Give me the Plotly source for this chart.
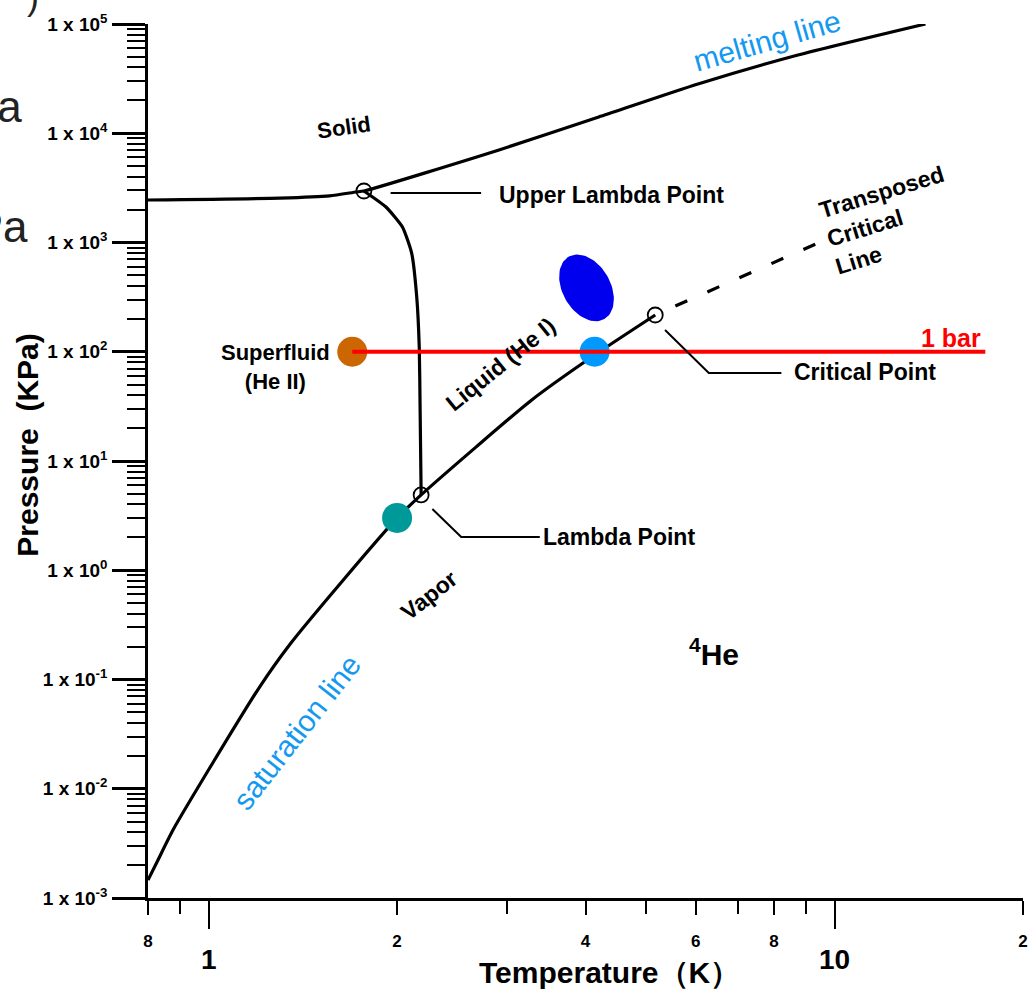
import numpy as np
import plotly.graph_objects as go

# ---------------- data ----------------
# melting line / solid boundary (T in K, P in kPa)
melt_T = [0.80, 1.30, 1.56, 1.72, 1.77, 2.91, 4.20, 6.05, 8.74, 13.97]
melt_P = [2450, 2550, 2670, 2900, 2960, 7030, 14090, 28250, 52000, 100000]

# lambda line (He I / He II boundary)
lambda_T = [1.77, 1.92, 2.04, 2.11, 2.15, 2.17, 2.177, 2.185]
lambda_P = [2960, 2113, 1387, 801, 317, 110, 29.3, 4.89]

# saturation (vapour pressure) line
sat_T = [0.80, 0.83, 0.877, 1.015, 1.206, 1.346, 1.641, 2.001, 2.185, 2.673, 3.282, 4.136, 5.17]
sat_P = [1.46e-3, 2.23e-3, 4.19e-3, 0.0172, 0.0853, 0.207, 0.814, 3.01, 4.89, 13.4, 36.2, 93.3, 217]

# transposed critical line (dashed)
trans_T = [5.17, 9.40]
trans_P = [217, 988]

# special points: upper lambda, lambda, critical
special_T = [1.77, 2.185, 5.17]
special_P = [2960, 4.89, 217]

# 1 bar line
bar_T = [1.696, 17.41]
bar_P = [100, 100]

# coloured markers
orange_pt = (1.696, 100)
teal_pt = (2.00, 3.01)
blue_pt = (4.136, 100)
ellipse_center = (4.015, 384)

# axis ticks
y_tickvals = [1e-3, 1e-2, 1e-1, 1e0, 1e1, 1e2, 1e3, 1e4, 1e5]
y_exponents = ["-3", "-2", "-1", "0", "1", "2", "3", "4", "5"]
y_ticktext = ["1 x 10<sup>" + e + "</sup>" for e in y_exponents]
y_minor = [m * 10.0 ** k for k in range(-3, 5) for m in range(2, 10)]
x_tickvals = [0.8, 2, 4, 6, 8, 20]
x_ticktext = ["8", "2", "4", "6", "8", "2"]
x_minor = [0.9, 3, 5, 7, 9]
x2_tickvals = [1, 10]
x2_ticktext = ["1", "10"]

# ---------------- layout geometry ----------------
W, H = 1035, 990
L, R, T, B = 148, 1028, 24, 898
PW, PH = R - L, B - T
FONT = "Liberation Sans, Arial, sans-serif"
BLUE_TXT = "#1499f0"

xr = [np.log10(0.8), np.log10(20)]
yr = [-3, 5]
px_per_dec_x = PW / (xr[1] - xr[0])
px_per_dec_y = PH / (yr[1] - yr[0])


def px(x):
    return (x - L) / PW


def py(y):
    return (B - y) / PH


fig = go.Figure()

# ellipse (highlight region), built in pixel space around its centre
a_px, b_px, tilt = 36, 24, np.deg2rad(30)
t = np.linspace(0, 2 * np.pi, 80)
ex = a_px * np.cos(t)
ey = b_px * np.sin(t)
dx = ex * np.sin(tilt) + ey * np.cos(tilt)
dy = ex * np.cos(tilt) - ey * np.sin(tilt)
ell_T = 10 ** (np.log10(ellipse_center[0]) + dx / px_per_dec_x)
ell_P = 10 ** (np.log10(ellipse_center[1]) - dy / px_per_dec_y)
fig.add_trace(go.Scatter(x=ell_T, y=ell_P, mode="lines", fill="toself",
                         fillcolor="#0000ee", line=dict(color="#0000ee", width=0),
                         hoverinfo="skip", showlegend=False))

line_style = dict(color="black", width=3.2, shape="spline", smoothing=0.6)
fig.add_trace(go.Scatter(x=melt_T, y=melt_P, mode="lines", line=line_style, showlegend=False))
fig.add_trace(go.Scatter(x=lambda_T, y=lambda_P, mode="lines",
                         line=dict(color="black", width=3.2, shape="spline", smoothing=0.5),
                         showlegend=False))
fig.add_trace(go.Scatter(x=sat_T, y=sat_P, mode="lines", line=line_style, showlegend=False))
fig.add_trace(go.Scatter(x=trans_T, y=trans_P, mode="lines",
                         line=dict(color="black", width=3.2, dash="0px,22px,13px,0px"),
                         showlegend=False))
fig.add_trace(go.Scatter(x=bar_T, y=bar_P, mode="lines", xaxis="x2",
                         line=dict(color="#ff0000", width=4), showlegend=False))
fig.add_trace(go.Scatter(x=special_T, y=special_P, mode="markers",
                         marker=dict(symbol="circle-open", size=15, color="black",
                                     line=dict(width=1.8, color="black")),
                         showlegend=False))
for (pt, col) in [(orange_pt, "#cc6600"), (teal_pt, "#009999"), (blue_pt, "#0099ff")]:
    fig.add_trace(go.Scatter(x=[pt[0]], y=[pt[1]], mode="markers",
                             marker=dict(size=30, color=col, line=dict(width=0)),
                             showlegend=False))

# leader lines (pixel coordinates converted to paper)
leaders = [
    [(392, 193), (483, 193)],
    [(434, 509), (463, 537), (542, 537)],
    [(668, 330), (712, 373), (785, 373)],
]
for seg in leaders:
    path = "M " + " L ".join(f"{px(x):.5f},{py(y):.5f}" for x, y in seg)
    fig.add_shape(type="path", path=path, xref="paper", yref="paper",
                  line=dict(color="black", width=2))


def ann(text, x, y, size, angle=0, bold=True, color="black", xanchor="center",
        yanchor="middle", align="center", family=FONT):
    fig.add_annotation(text=text, x=px(x), y=py(y), xref="paper", yref="paper",
                       showarrow=False, textangle=angle, xanchor=xanchor, yanchor=yanchor,
                       align=align,
                       font=dict(family=family, size=size, color=color,
                                 weight="bold" if bold else "normal"))


ann("Solid", 345, 127, 22, angle=-8)
ann("Upper Lambda Point", 499, 195, 23, xanchor="left")
ann("Superfluid<br>(He II)", 276, 367, 22)
ann("Liquid (He I)", 503, 364, 23, angle=-39)
ann("Vapor", 431, 595, 23, angle=-38)
ann("Lambda Point", 543, 537, 23, xanchor="left")
ann("Critical Point", 796, 372, 23, xanchor="left")
ann("Transposed", 886, 192, 23, angle=-17)
ann("Critical", 869, 228, 23, angle=-17)
ann("Line", 863, 260, 23, angle=-17)
ann("<sup>4</sup>He", 717, 652, 30)
ann("1 bar", 956, 338, 25, color="#ff0000")
ann("melting line", 771, 40, 30, angle=-16, bold=False, color=BLUE_TXT)
ann("saturation line", 297, 732, 30, angle=-52, bold=False, color=BLUE_TXT)
ann("Pressure  (KPa)", 27, 445, 30, angle=-90)
ann("Temperature（K）", 612, 972, 30)
# slide residue at the left edge (partly cut off)
ann("kPa", 23, 106, 44, bold=False, color="#222222", xanchor="right")
ann("MPa", 29, 226, 44, bold=False, color="#222222", xanchor="right")
ann(")", 40, -4, 36, bold=False, color="#222222", xanchor="right")

tick_font = dict(family=FONT, size=19, color="black", weight="bold")
fig.update_layout(
    width=W, height=H,
    margin=dict(l=L, r=W - R, t=T, b=H - B),
    paper_bgcolor="white", plot_bgcolor="white",
    xaxis=dict(type="log", range=xr, showline=True, linecolor="black", linewidth=2.5,
               showgrid=False, zeroline=False, ticks="outside", ticklen=14, tickwidth=2,
               tickcolor="black", tickvals=x_tickvals, ticktext=x_ticktext,
               tickfont=dict(family=FONT, size=17, color="black", weight="bold"),
               ticklabelstandoff=12,
               minor=dict(tickvals=x_minor, ticks="outside", ticklen=13, tickwidth=2,
                          tickcolor="black", showgrid=False)),
    xaxis2=dict(type="log", range=xr, overlaying="x", anchor="y", side="bottom",
                showline=False, showgrid=False, zeroline=False, ticks="outside",
                ticklen=30, tickwidth=2, tickcolor="black",
                tickvals=x2_tickvals, ticktext=x2_ticktext,
                tickfont=dict(family=FONT, size=28, color="black", weight="bold"),
                ticklabelstandoff=6),
    yaxis=dict(type="log", range=yr, showline=True, linecolor="black", linewidth=2.5,
               showgrid=False, zeroline=False, ticks="outside", ticklen=33, tickwidth=2.5,
               tickcolor="black", tickvals=y_tickvals, ticktext=y_ticktext,
               tickfont=tick_font, ticklabelstandoff=1,
               minor=dict(tickvals=y_minor, ticks="outside", ticklen=18, tickwidth=2,
                          tickcolor="black", showgrid=False)),
    showlegend=False,
)

fig.write_html("out.html")
